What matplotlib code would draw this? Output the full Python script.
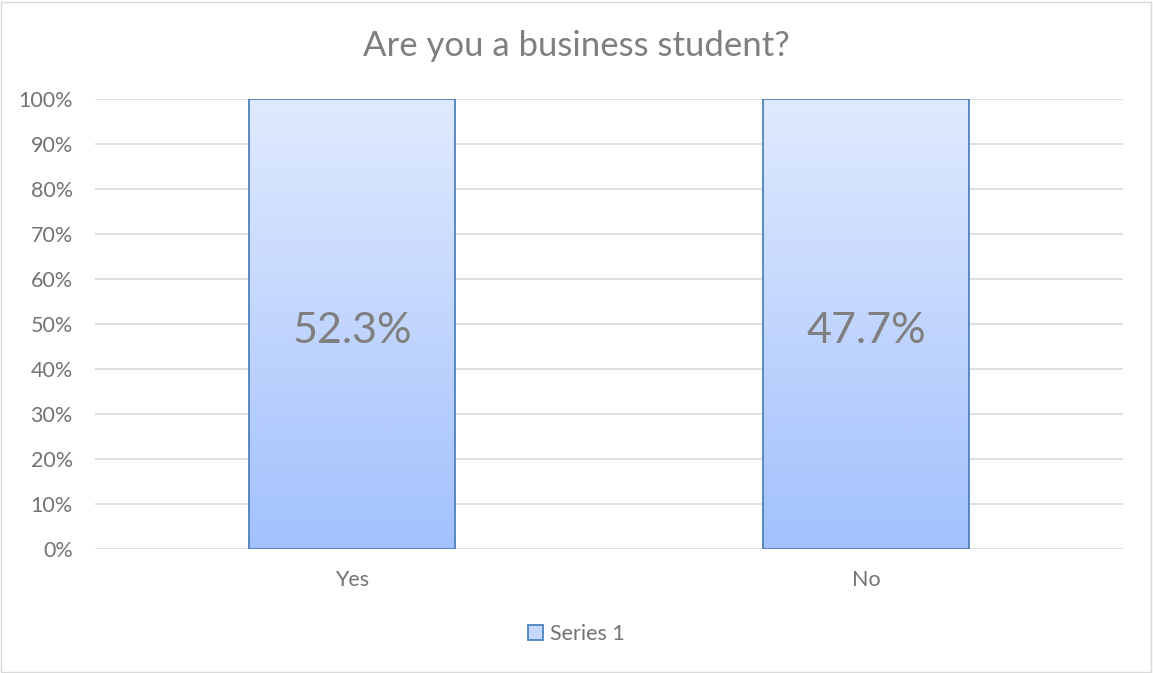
import matplotlib
matplotlib.use("Agg")
import matplotlib.pyplot as plt
import numpy as np
from matplotlib.colors import LinearSegmentedColormap
from matplotlib.patches import Rectangle

categories = ["Yes", "No"]
values = [52.3, 47.7]
series_name = "Series 1"
title = "Are you a business student?"
yticks = [0, 10, 20, 30, 40, 50, 60, 70, 80, 90, 100]

plt.rcParams['font.family'] = ['Lato', 'DejaVu Sans']
gray = "#7f7f7f"
tick_gray = "#737373"

fig = plt.figure(figsize=(11.53, 6.73), dpi=100)
ax = fig.add_axes([0.0824, 0.1842, 0.8916, 0.6688])

# 100% stacked: each single-series column fills its category
heights = [v / v * 100 for v in values]
x = np.arange(len(categories))
width = 0.4
cmap = LinearSegmentedColormap.from_list("g", ["#a3c1fd", "#e0eafd"])
grad = np.linspace(0, 1, 256).reshape(-1, 1)

bars = ax.bar(x, heights, width=width, color="none", edgecolor="#4f81bd",
              linewidth=1.3, zorder=3, label=series_name)
for b in bars:
    x0, y0 = b.get_x(), b.get_y()
    w, h = b.get_width(), b.get_height()
    im = ax.imshow(grad, extent=[x0, x0 + w, y0, y0 + h], origin="lower",
                   cmap=cmap, aspect="auto", zorder=2)
    im.set_clip_path(b)

for xi, h, v in zip(x, heights, values):
    ax.annotate(f"{v}%", xy=(xi, h / 2), xytext=(0, -5), textcoords="offset points",
                ha="center", va="center", fontsize=31, color=gray, zorder=4)

ax.set_xlim(-0.5, len(categories) - 0.5)
ax.set_ylim(0, 100)
ax.set_yticks(yticks)
ax.set_yticklabels([f"{t}%" for t in yticks])
ax.set_xticks(x)
ax.set_xticklabels(categories)
ax.tick_params(axis="both", length=0, labelsize=15.5, colors=tick_gray)
ax.tick_params(axis="y", pad=16)
ax.tick_params(axis="x", pad=15)
ax.grid(axis="y", color="#d9d9d9", linewidth=1.2, zorder=0)
ax.set_axisbelow(True)
for s in ax.spines.values():
    s.set_visible(False)

fig.text(0.5, 0.932, title, ha="center", va="center", fontsize=25, color=gray)

handle = Rectangle((0, 0), 1, 1, facecolor="#c5d8fd", edgecolor="#4f81bd", linewidth=1.3)
fig.legend([handle], [series_name], loc="center", bbox_to_anchor=(0.5, 0.058),
           frameon=False, fontsize=15.5, labelcolor=tick_gray, handlelength=0.7,
           handleheight=0.7, handletextpad=0.3)

fig.add_artist(Rectangle((0.001, 0.002), 0.997, 0.995, transform=fig.transFigure,
                         fill=False, edgecolor="#d9d9d9", linewidth=1))

fig.savefig("out.png", dpi=100)
